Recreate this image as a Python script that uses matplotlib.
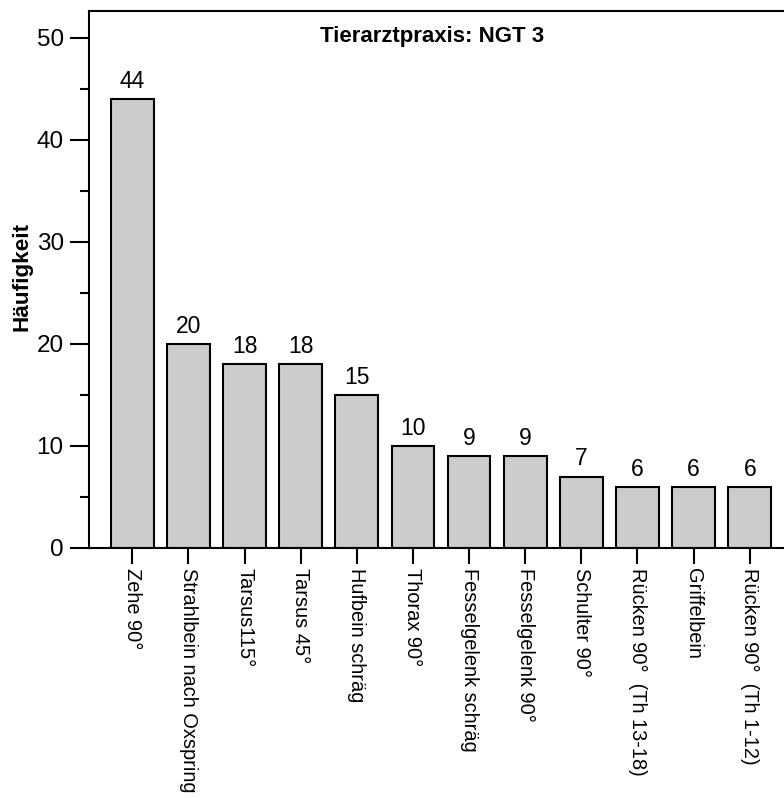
import matplotlib
matplotlib.use("Agg")
import matplotlib.pyplot as plt
from matplotlib.ticker import MultipleLocator

categories = [
    "Zehe 90°",
    "Strahlbein nach Oxspring",
    "Tarsus115°",
    "Tarsus 45°",
    "Hufbein schräg",
    "Thorax 90°",
    "Fesselgelenk schräg",
    "Fesselgelenk 90°",
    "Schulter 90°",
    "Rücken 90°  (Th 13-18)",
    "Griffelbein",
    "Rücken 90°  (Th 1-12)",
]
counts = [44, 20, 18, 18, 15, 10, 9, 9, 7, 6, 6, 6]
title = "Tierarztpraxis: NGT 3"
ylabel = "Häufigkeit"

plt.rcParams["font.family"] = ["Liberation Sans", "DejaVu Sans"]

fig = plt.figure(figsize=(7.84, 7.98), dpi=100)
ax = fig.add_axes([89 / 784, 250 / 798, 704 / 784, 537 / 798])

x = list(range(len(categories)))
ax.bar(x, counts, width=0.76, color="#cccccc", edgecolor="black", linewidth=1.5, zorder=2)

for xi, c in zip(x, counts):
    ax.text(xi, c + 0.6, str(c), ha="center", va="bottom", fontsize=16.5)

ax.set_xlim(-0.77, 11.77)
ax.set_ylim(0, 52.6)
ax.set_xticks(x)
ax.set_xticklabels(categories, rotation=-90, ha="center", va="top", fontsize=14.4)
ax.yaxis.set_major_locator(MultipleLocator(10))
ax.yaxis.set_minor_locator(MultipleLocator(5))
ax.tick_params(axis="y", which="major", length=13.7, width=1.5, labelsize=17.5, pad=4.5)
ax.tick_params(axis="y", which="minor", length=6.5, width=1.5)
ax.tick_params(axis="x", which="major", length=11.5, width=1.5, pad=3)

for side in ("left", "top", "bottom", "right"):
    ax.spines[side].set_linewidth(1.5)

ax.set_ylabel(ylabel, fontsize=16.2, fontweight="bold")
ax.yaxis.set_label_coords(-0.080, 0.506)
ax.text(0.487, 0.972, title, transform=ax.transAxes, ha="center", va="top",
        fontsize=16, fontweight="bold")

fig.savefig("out.png", dpi=100)
